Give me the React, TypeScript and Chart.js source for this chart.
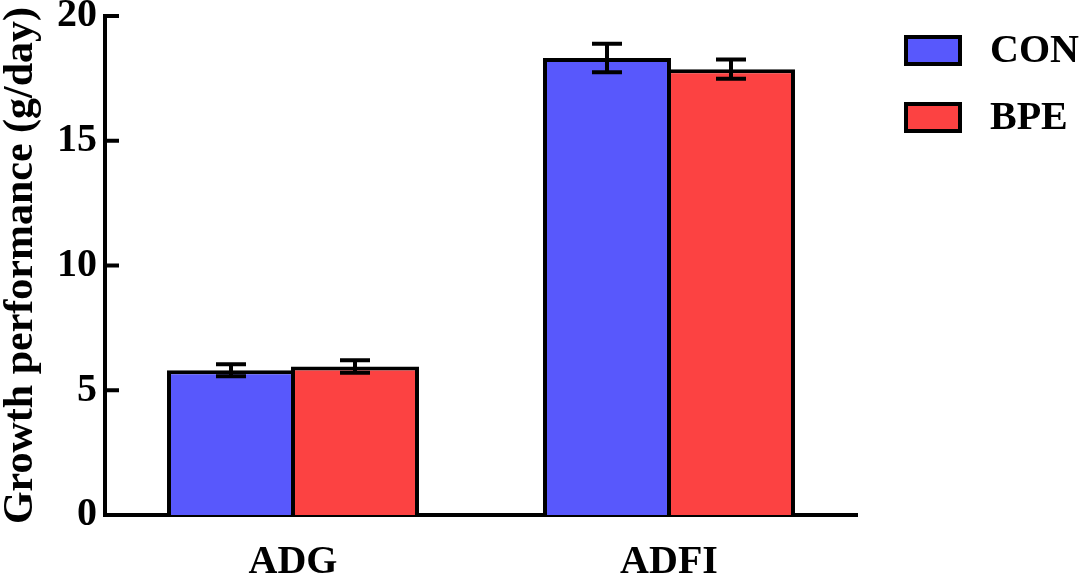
import React, { useEffect, useRef } from 'react';
import { Chart, registerables } from 'chart.js';

Chart.register(...registerables);

const categories = ['ADG', 'ADFI'];
const seriesNames = ['CON', 'BPE'];
const conValues = [5.8, 18.32];
const bpeValues = [5.95, 17.87];
const conErrors = [0.24, 0.57];
const bpeErrors = [0.25, 0.39];
const yTickValues = [0, 5, 10, 15, 20];
const seriesColors = ['#5858FC', '#FC4242'];
const yTitle = 'Growth performance (g/day)';

const FONT = '"Liberation Serif", "Times New Roman", serif';

export default function App() {
  const ref = useRef<HTMLCanvasElement | null>(null);

  useEffect(() => {
    const canvas = ref.current;
    if (!canvas) return;
    const errors = [conErrors, bpeErrors];

    const errorBars = {
      id: 'errorBars',
      afterDatasetsDraw(chart: any) {
        const ctx = chart.ctx;
        const y = chart.scales.y;
        chart.data.datasets.forEach((ds: any, di: number) => {
          const meta = chart.getDatasetMeta(di);
          meta.data.forEach((bar: any, i: number) => {
            const v = ds.data[i];
            const e = errors[di][i];
            const x = bar.x;
            const yt = y.getPixelForValue(v + e);
            const yb = y.getPixelForValue(v - e);
            ctx.save();
            ctx.strokeStyle = '#000';
            ctx.lineWidth = 4;
            ctx.beginPath();
            ctx.moveTo(x, yt);
            ctx.lineTo(x, yb);
            ctx.moveTo(x - 15, yt);
            ctx.lineTo(x + 15, yt);
            ctx.moveTo(x - 15, yb);
            ctx.lineTo(x + 15, yb);
            ctx.stroke();
            ctx.restore();
          });
        });
      },
    };

    const innerTicks = {
      id: 'innerTicks',
      afterDatasetsDraw(chart: any) {
        const ctx = chart.ctx;
        const y = chart.scales.y;
        const left = chart.chartArea.left;
        ctx.save();
        ctx.strokeStyle = '#000';
        ctx.lineWidth = 4;
        ctx.beginPath();
        y.ticks.forEach((t: any) => {
          const py = y.getPixelForValue(t.value);
          ctx.moveTo(left - 2, py);
          ctx.lineTo(left + 14, py);
        });
        ctx.stroke();
        ctx.restore();
      },
    };

    const customLegend = {
      id: 'customLegend',
      afterDraw(chart: any) {
        const ctx = chart.ctx;
        ctx.save();
        chart.data.datasets.forEach((ds: any, i: number) => {
          const bx = 904;
          const by = 35 + i * 67;
          const bw = 58;
          const bh = 31;
          ctx.fillStyle = ds.backgroundColor;
          ctx.fillRect(bx, by, bw, bh);
          ctx.strokeStyle = '#000';
          ctx.lineWidth = 4;
          ctx.strokeRect(bx + 2, by + 2, bw - 4, bh - 4);
          ctx.fillStyle = '#000';
          ctx.font = `bold 40px ${FONT}`;
          ctx.textBaseline = 'middle';
          ctx.textAlign = 'left';
          ctx.fillText(ds.label, 990, by + bh / 2 + 1);
        });
        ctx.restore();
      },
    };

    const chart = new Chart(canvas, {
      type: 'bar',
      data: {
        labels: categories,
        datasets: [
          {
            label: seriesNames[0],
            data: conValues,
            backgroundColor: seriesColors[0],
            borderColor: '#000',
            borderWidth: 4,
            categoryPercentage: 0.6596,
            barPercentage: 1.032,
          },
          {
            label: seriesNames[1],
            data: bpeValues,
            backgroundColor: seriesColors[1],
            borderColor: '#000',
            borderWidth: 4,
            categoryPercentage: 0.6596,
            barPercentage: 1.032,
          },
        ],
      },
      options: {
        animation: false,
        responsive: true,
        maintainAspectRatio: false,
        layout: { padding: { top: 16, right: 227, left: 0, bottom: 0 } },
        plugins: {
          legend: { display: false },
          tooltip: { enabled: false },
        },
        scales: {
          x: {
            grid: { display: false, drawTicks: false },
            border: { display: true, color: '#000', width: 4 },
            ticks: {
              color: '#000',
              font: { family: FONT, size: 40, weight: 'bold' },
              padding: 24,
            },
            afterFit(scale: any) {
              scale.height = 62;
            },
          },
          y: {
            min: 0,
            max: 20,
            afterBuildTicks(scale: any) {
              scale.ticks = yTickValues.map((v) => ({ value: v }));
            },
            grid: { display: false, drawTicks: false },
            border: { display: true, color: '#000', width: 4 },
            ticks: {
              color: '#000',
              font: { family: FONT, size: 40, weight: 'bold', lineHeight: 0.3 },
              padding: 8,
            },
            title: {
              display: true,
              text: yTitle,
              color: '#000',
              font: { family: FONT, size: 42, weight: 'bold', lineHeight: 1.0 },
              padding: 0,
            },
            afterFit(scale: any) {
              scale.width = 105;
            },
          },
        },
      },
      plugins: [errorBars, innerTicks, customLegend],
    });

    return () => chart.destroy();
  }, []);

  return (
    <div style={{ position: 'absolute', left: 0, top: 0, width: 1084, height: 577, background: '#fff' }}>
      <canvas ref={ref} />
    </div>
  );
}
